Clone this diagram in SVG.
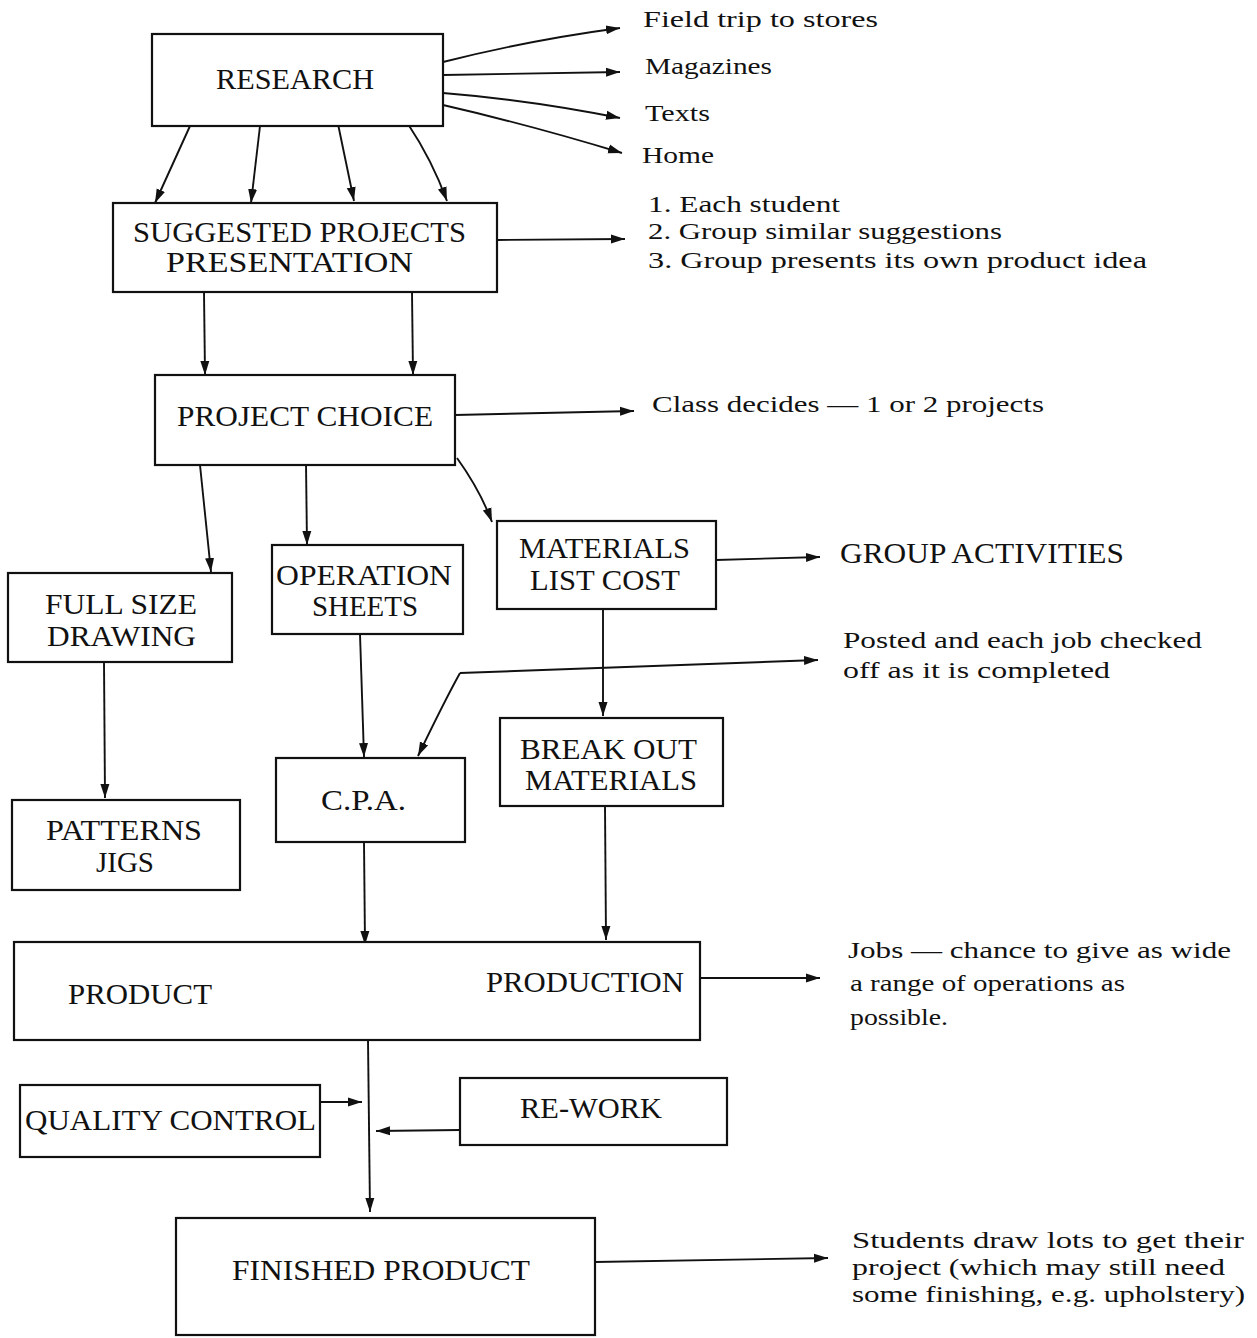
<svg xmlns="http://www.w3.org/2000/svg" width="1257" height="1338" viewBox="0 0 1257 1338">
<defs>
<marker id="ah" markerUnits="userSpaceOnUse" markerWidth="16" markerHeight="12" refX="14" refY="6" orient="auto">
<path d="M0,1.5 L14,6 L0,10.5 Z" fill="#111"/>
</marker>
<style>
.box{fill:#fff;stroke:#111;stroke-width:2.2}
.bt{font-family:"Liberation Serif","DejaVu Serif",serif;font-size:29px;fill:#111}
.lt{font-family:"Liberation Serif","DejaVu Serif",serif;font-size:23.5px;fill:#111}
.c{fill:none;stroke:#111;stroke-width:1.9;marker-end:url(#ah)}
</style>
</defs>
<rect width="1257" height="1338" fill="#fff"/>

<g id="connectors">
<path class="c" d="M443,62 Q530,40 620,28"/>
<path class="c" d="M443,75 L620,72"/>
<path class="c" d="M443,93 Q530,100 620,118"/>
<path class="c" d="M443,105 Q530,125 622,153"/>
<path class="c" d="M190,126 L155,203"/>
<path class="c" d="M260,126 L251,203"/>
<path class="c" d="M338,124 L354,201"/>
<path class="c" d="M408,124 Q432,160 447,201"/>
<path class="c" d="M497,240 L625,239"/>
<path class="c" d="M204,292 L205,375"/>
<path class="c" d="M412,292 L413,375"/>
<path class="c" d="M455,415 L634,411"/>
<path class="c" d="M200,465 L211,572"/>
<path class="c" d="M306,463 L307,545"/>
<path class="c" d="M457,458 Q480,490 492,522"/>
<path class="c" d="M716,560 L820,557"/>
<path class="c" d="M603,609 L603,716"/>
<path class="c" d="M460,673 L818,660"/>
<path class="c" d="M460,673 Q445,700 418,756"/>
<path class="c" d="M360,634 L364,757"/>
<path class="c" d="M104,662 L105,798"/>
<path class="c" d="M364,842 L365,945"/>
<path class="c" d="M605,806 L606,940"/>
<path class="c" d="M700,978 L820,978"/>
<path class="c" d="M368,1040 L370,1212"/>
<path class="c" d="M320,1102 L362,1102"/>
<path class="c" d="M460,1130 L376,1131"/>
<path class="c" d="M595,1262 L828,1258"/>
</g>

<g id="research"><rect class="box" x="152" y="34" width="291" height="92"/>
<text class="bt" x="216" y="89" textLength="158" lengthAdjust="spacingAndGlyphs">RESEARCH</text></g>

<g id="suggested"><rect class="box" x="113" y="203" width="384" height="89"/>
<text class="bt" x="133" y="242" textLength="333" lengthAdjust="spacingAndGlyphs">SUGGESTED PROJECTS</text>
<text class="bt" x="166" y="272" textLength="247" lengthAdjust="spacingAndGlyphs">PRESENTATION</text></g>

<g id="project-choice"><rect class="box" x="155" y="375" width="300" height="90"/>
<text class="bt" x="177" y="426" textLength="256" lengthAdjust="spacingAndGlyphs">PROJECT CHOICE</text></g>

<g id="full-size"><rect class="box" x="8" y="573" width="224" height="89"/>
<text class="bt" x="45" y="614" textLength="152" lengthAdjust="spacingAndGlyphs">FULL SIZE</text>
<text class="bt" x="47" y="646" textLength="149" lengthAdjust="spacingAndGlyphs">DRAWING</text></g>

<g id="operation-sheets"><rect class="box" x="272" y="545" width="191" height="89"/>
<text class="bt" x="276" y="585" textLength="176" lengthAdjust="spacingAndGlyphs">OPERATION</text>
<text class="bt" x="312" y="616" textLength="106" lengthAdjust="spacingAndGlyphs">SHEETS</text></g>

<g id="materials"><rect class="box" x="497" y="521" width="219" height="88"/>
<text class="bt" x="519" y="558" textLength="171" lengthAdjust="spacingAndGlyphs">MATERIALS</text>
<text class="bt" x="530" y="590" textLength="150" lengthAdjust="spacingAndGlyphs">LIST COST</text></g>

<g id="break-out"><rect class="box" x="500" y="718" width="223" height="88"/>
<text class="bt" x="520" y="759" textLength="177" lengthAdjust="spacingAndGlyphs">BREAK OUT</text>
<text class="bt" x="525" y="790" textLength="172" lengthAdjust="spacingAndGlyphs">MATERIALS</text></g>

<g id="cpa"><rect class="box" x="276" y="758" width="189" height="84"/>
<text class="bt" x="321" y="810" textLength="85" lengthAdjust="spacingAndGlyphs">C.P.A.</text></g>

<g id="patterns"><rect class="box" x="12" y="800" width="228" height="90"/>
<text class="bt" x="46" y="840" textLength="156" lengthAdjust="spacingAndGlyphs">PATTERNS</text>
<text class="bt" x="96" y="872" textLength="58" lengthAdjust="spacingAndGlyphs">JIGS</text></g>

<g id="production"><rect class="box" x="14" y="942" width="686" height="98"/>
<text class="bt" x="68" y="1004" textLength="144" lengthAdjust="spacingAndGlyphs">PRODUCT</text>
<text class="bt" x="486" y="992" textLength="198" lengthAdjust="spacingAndGlyphs">PRODUCTION</text></g>

<g id="quality-control"><rect class="box" x="20" y="1085" width="300" height="72"/>
<text class="bt" x="25" y="1130" textLength="291" lengthAdjust="spacingAndGlyphs">QUALITY CONTROL</text></g>

<g id="rework"><rect class="box" x="460" y="1078" width="267" height="67"/>
<text class="bt" x="520" y="1118" textLength="142" lengthAdjust="spacingAndGlyphs">RE-WORK</text></g>

<g id="finished"><rect class="box" x="176" y="1218" width="419" height="117"/>
<text class="bt" x="232" y="1280" textLength="298" lengthAdjust="spacingAndGlyphs">FINISHED PRODUCT</text></g>

<g id="labels">
<text class="lt" x="643" y="27" textLength="235" lengthAdjust="spacingAndGlyphs">Field trip to stores</text>
<text class="lt" x="645" y="74" textLength="127" lengthAdjust="spacingAndGlyphs">Magazines</text>
<text class="lt" x="645" y="121" textLength="65" lengthAdjust="spacingAndGlyphs">Texts</text>
<text class="lt" x="642" y="163" textLength="72" lengthAdjust="spacingAndGlyphs">Home</text>
<text class="lt" x="648" y="212" textLength="192" lengthAdjust="spacingAndGlyphs">1. Each student</text>
<text class="lt" x="648" y="239" textLength="354" lengthAdjust="spacingAndGlyphs">2. Group similar suggestions</text>
<text class="lt" x="648" y="268" textLength="499" lengthAdjust="spacingAndGlyphs">3. Group presents its own product idea</text>
<text class="lt" x="652" y="412" textLength="392" lengthAdjust="spacingAndGlyphs">Class decides — 1 or 2 projects</text>
<text class="bt" x="840" y="563" textLength="284" lengthAdjust="spacingAndGlyphs">GROUP ACTIVITIES</text>
<text class="lt" x="843" y="648" textLength="359" lengthAdjust="spacingAndGlyphs">Posted and each job checked</text>
<text class="lt" x="843" y="678" textLength="267" lengthAdjust="spacingAndGlyphs">off as it is completed</text>
<text class="lt" x="848" y="958" textLength="383" lengthAdjust="spacingAndGlyphs">Jobs — chance to give as wide</text>
<text class="lt" x="850" y="991" textLength="275" lengthAdjust="spacingAndGlyphs">a range of operations as</text>
<text class="lt" x="850" y="1025" textLength="98" lengthAdjust="spacingAndGlyphs">possible.</text>
<text class="lt" x="852" y="1248" textLength="392" lengthAdjust="spacingAndGlyphs">Students draw lots to get their</text>
<text class="lt" x="852" y="1275" textLength="373" lengthAdjust="spacingAndGlyphs">project (which may still need</text>
<text class="lt" x="852" y="1302" textLength="393" lengthAdjust="spacingAndGlyphs">some finishing, e.g. upholstery)</text>
</g>
</svg>
